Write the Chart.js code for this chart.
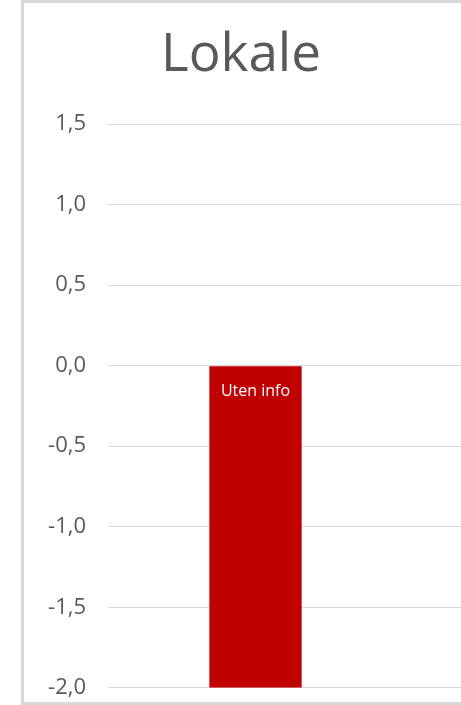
<!DOCTYPE html>
<html>
<head>
<meta charset="utf-8">
<script src="https://cdn.jsdelivr.net/npm/chart.js@4.4.1/dist/chart.umd.min.js"></script>
<style>
    html, body { margin: 0; padding: 0; background: #fff; }
    body { width: 461px; height: 705px; overflow: hidden; position: relative; }
    #frame {
        position: absolute; left: 21px; top: 0; width: 800px; height: 699px;
        border-top: 3px solid #d9d9d9; border-left: 3px solid #d9d9d9; border-bottom: 3px solid #d9d9d9;
    }
    #title {
        position: absolute; left: 0; top: 24px; width: 482px; text-align: center;
        font-family: "Open Sans", sans-serif; font-size: 53px; line-height: 53px; color: #595959;
    }
    #barChart { position: absolute; left: 24px; top: 3px; }
</style>
</head>
<body>
<div id="frame"></div>
<div id="title">Lokale</div>
<canvas id="barChart" width="674" height="698"></canvas>
<script>
// Lokale: one bar, the rest of the category axis is cut off in the picture
var categories = ["Uten info", ""];
var values = [-2.0, null];
var yMin = -2.0, yMax = 1.5, yStep = 0.5;

// writes the category name inside the bar, near its top
var barLabels = {
    id: "barLabels",
    afterDatasetsDraw: function (chart) {
        var ctx = chart.ctx;
        var meta = chart.getDatasetMeta(0);
        ctx.save();
        ctx.font = "16px 'Open Sans'";
        ctx.fillStyle = "#ffffff";
        ctx.textAlign = "center";
        ctx.textBaseline = "middle";
        meta.data.forEach(function (bar, i) {
            if (values[i] === null) return;
            var top = Math.min(bar.y, bar.base);
            ctx.fillText(categories[i], bar.x, top + 25);
        });
        ctx.restore();
    },
};

document.addEventListener("DOMContentLoaded", function () {
    var ctx = document.getElementById("barChart").getContext("2d");

    var barChart = new Chart(ctx, {
        type: "bar",
        data: {
            labels: categories,
            datasets: [
                {
                    label: "Lokale",
                    data: values,
                    backgroundColor: "#c00000",
                    borderWidth: 0,
                    categoryPercentage: 1,
                    barPercentage: 0.313, // Excel gap width 219%
                },
            ],
        },
        options: {
            responsive: false,
            animation: false,
            layout: { padding: { top: 121, bottom: 13, left: 0, right: 0 } },
            plugins: {
                legend: { display: false },
                tooltip: { enabled: false },
            },
            scales: {
                x: { display: false },
                y: {
                    min: yMin,
                    max: yMax,
                    border: { display: false },
                    grid: {
                        color: "#d9d9d9",
                        lineWidth: 1,
                        drawTicks: true,
                        tickLength: 22,
                        tickColor: "rgba(0,0,0,0)", // space between labels and plot, no tick marks
                    },
                    ticks: {
                        stepSize: yStep,
                        padding: 0,
                        color: "#595959",
                        font: { family: "'Open Sans'", size: 22 },
                        callback: function (v) {
                            return v.toFixed(1).replace(".", ",");
                        },
                    },
                    afterFit: function (scale) {
                        scale.width = 84;
                    },
                },
            },
        },
        plugins: [barLabels],
    });
});
</script>
</body>
</html>
